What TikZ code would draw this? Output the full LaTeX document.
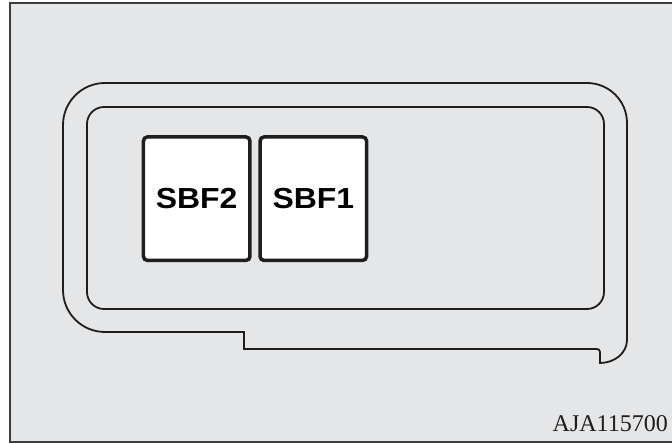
\documentclass[tikz,border=0pt]{standalone}
\usepackage{fontspec}
\usepackage{tikz}
\usetikzlibrary{positioning}
\newfontfamily\fusefont{Liberation Sans}
\newfontfamily\codefont{Liberation Serif}
\definecolor{panelgray}{RGB}{229,230,232}
\definecolor{framegray}{RGB}{60,60,60}
\definecolor{inkblack}{RGB}{30,30,30}

\begin{document}
\begin{tikzpicture}[x=1pt, y=-1pt,
      outline/.style={draw=inkblack, line width=1.8pt},
      fuse/.style={draw=inkblack, fill=white, line width=3.5pt, rounded corners=4pt, minimum width=106.5pt, minimum height=123.5pt, inner sep=0pt, font=\fusefont\bfseries\fontsize{29}{29}\selectfont}
    ]
      \useasboundingbox (0,0) rectangle (672,443);

      % Panel frame
      \draw[framegray, fill=panelgray, line width=2pt] (10,3.3) rectangle (676,441.7);

      % Outer housing with step and hook
      \draw[outline] (244,349) -- (244,332) -- (105,332)
        arc[start angle=90, end angle=180, radius=42] -- (63,125)
        arc[start angle=180, end angle=270, radius=42] -- (587,83)
        arc[start angle=270, end angle=360, radius=40] -- (627,340)
        arc[start angle=0, end angle=90, x radius=27, y radius=23] -- (600,352)
        arc[start angle=0, end angle=-90, radius=3] -- cycle;

      % Inner cover
      \draw[outline, rounded corners=17pt] (87,107) rectangle (604,309);

      % Fuses
      \node[fuse] (sbf2) at (196.7,198.7) {\scalebox{1.1}[1]{SBF2}};
      \node[fuse, right=6.6pt of sbf2] (sbf1) {\scalebox{1.1}[1]{SBF1}};

      % Figure code
      \node[anchor=base east, inner sep=0pt, text=inkblack, font=\codefont\fontsize{24}{24}\selectfont] (figcode) at (668,431.7) {AJA115700};
    \end{tikzpicture}
\end{document}
